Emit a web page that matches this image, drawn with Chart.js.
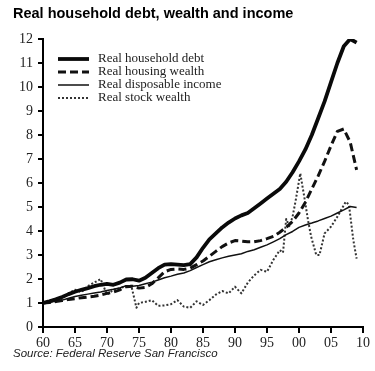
<!DOCTYPE html>
<html>
<head>
<meta charset="utf-8">
<script src="https://cdn.jsdelivr.net/npm/chart.js@4"></script>
<style>
  html, body { margin: 0; padding: 0; background: #fff; }
  #wrap { position: relative; width: 375px; height: 371px; }
</style>
</head>
<body>
<div id="wrap"><canvas id="debtChart" width="375" height="371"></canvas></div>
<script>
// values (year as 60..109)
const years = [60, 61, 62, 63, 64, 65, 66, 67, 68, 69, 70, 71, 72, 73, 74, 75, 76, 77, 78, 79,
     80, 81, 82, 83, 84, 85, 86, 87, 88, 89, 90, 91, 92, 93, 94, 95, 96, 97, 98, 99,
     100, 101, 102, 103, 104, 105, 106, 107, 108, 109];

const householdDebt = [1.00, 1.07, 1.15, 1.25, 1.37, 1.47, 1.55, 1.62, 1.70, 1.76, 1.80, 1.76, 1.85, 1.98, 1.99, 1.93, 2.05, 2.25, 2.45, 2.60,
     2.62, 2.60, 2.58, 2.62, 2.90, 3.30, 3.65, 3.90, 4.15, 4.35, 4.52, 4.65, 4.75, 4.95, 5.15, 5.35, 5.55, 5.75, 6.05, 6.45,
     6.90, 7.40, 8.00, 8.70, 9.40, 10.20, 11.00, 11.70, 12.00, 11.85];

const housingWealth = [1.00, 1.02, 1.06, 1.10, 1.15, 1.18, 1.22, 1.25, 1.28, 1.33, 1.40, 1.45, 1.55, 1.68, 1.70, 1.62, 1.65, 1.80, 2.05, 2.30,
     2.40, 2.42, 2.40, 2.45, 2.60, 2.75, 2.95, 3.15, 3.35, 3.50, 3.60, 3.58, 3.55, 3.55, 3.60, 3.68, 3.78, 3.95, 4.15, 4.40,
     4.75, 5.20, 5.75, 6.30, 6.90, 7.55, 8.15, 8.25, 7.70, 6.55];

const disposableIncome = [1.00, 1.03, 1.08, 1.12, 1.20, 1.27, 1.32, 1.37, 1.42, 1.46, 1.52, 1.57, 1.63, 1.72, 1.70, 1.73, 1.80, 1.87, 1.96, 2.05,
     2.12, 2.20, 2.25, 2.35, 2.48, 2.60, 2.72, 2.80, 2.88, 2.95, 3.00, 3.05, 3.15, 3.22, 3.32, 3.42, 3.55, 3.68, 3.85, 3.98,
     4.15, 4.25, 4.33, 4.42, 4.52, 4.62, 4.75, 4.88, 5.02, 4.98];

const stockYears = [60, 61, 62, 63, 64, 65, 66, 67, 68, 69, 70, 71, 72, 73, 73.8, 74.6,
     75, 76, 77, 78, 79, 80, 81, 82, 83, 84, 85, 86, 87, 88, 89, 90, 91, 92, 93, 94, 95, 96, 97,
     97.5, 98, 98.5, 99, 99.5, 100.2, 100.9, 101.4, 101.9, 102.7, 103.2, 104, 105, 106, 107.3, 107.8, 108.5, 109];

const stockWealth = [1.00, 1.12, 1.05, 1.25, 1.40, 1.55, 1.45, 1.70, 1.85, 2.00, 1.35, 1.55, 1.62, 1.70, 1.72, 0.80,
     1.00, 1.05, 1.12, 0.88, 0.90, 0.95, 1.12, 0.85, 0.80, 1.07, 0.92, 1.12, 1.35, 1.50, 1.40, 1.68, 1.40, 1.85, 2.15, 2.38, 2.30, 2.80, 3.20,
     3.10, 4.50, 4.20, 4.60, 5.30, 6.40, 5.30, 4.46, 3.76, 3.00, 3.00, 3.90, 4.18, 4.60, 5.22, 5.10, 3.60, 2.85];

const seriesLabels = ["Real household debt", "Real housing wealth", "Real disposable income", "Real stock wealth"];
const yTicks = [0, 1, 2, 3, 4, 5, 6, 7, 8, 9, 10, 11, 12];
const xTicks = [60, 65, 70, 75, 80, 85, 90, 95, 100, 105, 110];

const titleText = "Real household debt, wealth and income";
const sourceText = "Source: Federal Reserve San Francisco";

function pairUp(xs, ys) {
     return xs.map((x, i) => ({ x: x, y: ys[i] }));
}

// title, source line and the legend box inside the plot
const annotations = {
     id: 'annotations',
     afterDraw(chart) {
          const ctx = chart.ctx;
          ctx.save();
          ctx.fillStyle = '#000';
          ctx.textBaseline = 'middle';
          ctx.textAlign = 'left';
          ctx.font = 'bold 14.5px "Liberation Sans", Arial, sans-serif';
          ctx.fillText(titleText, 13, 14);
          ctx.font = 'italic 11.5px "Liberation Sans", Arial, sans-serif';
          ctx.fillStyle = '#222';
          ctx.fillText(sourceText, 13, 354);

          ctx.font = '13px "Liberation Serif", "Times New Roman", serif';
          chart.data.datasets.forEach((ds, i) => {
               const y = 59 + i * 13;
               ctx.beginPath();
               ctx.strokeStyle = ds.borderColor;
               ctx.lineWidth = ds.borderWidth;
               ctx.setLineDash(ds.borderDash || []);
               ctx.moveTo(58, y);
               ctx.lineTo(89, y);
               ctx.stroke();
               ctx.setLineDash([]);
               ctx.fillStyle = '#222';
               ctx.fillText(ds.label, 98, y);
          });
          ctx.restore();
     }
};

const ctx = document.getElementById('debtChart').getContext('2d');
new Chart(ctx, {
     type: 'line',
     data: {
          datasets: [{
               label: seriesLabels[0],
               data: pairUp(years, householdDebt),
               borderColor: '#0a0a0a',
               borderWidth: 3.8
          }, {
               label: seriesLabels[1],
               data: pairUp(years, housingWealth),
               borderColor: '#111',
               borderWidth: 3,
               borderDash: [8, 4]
          }, {
               label: seriesLabels[2],
               data: pairUp(years, disposableIncome),
               borderColor: '#111',
               borderWidth: 1.5
          }, {
               label: seriesLabels[3],
               data: pairUp(stockYears, stockWealth),
               borderColor: '#333',
               borderWidth: 2,
               borderDash: [2, 2]
          }]
     },
     options: {
          responsive: false,
          animation: false,
          devicePixelRatio: 1,
          elements: {
               point: { radius: 0 },
               line: { tension: 0, borderCapStyle: 'butt', borderJoinStyle: 'round' }
          },
          layout: { padding: { top: 39, right: 12, bottom: 24, left: 0 } },
          plugins: {
               legend: { display: false },
               tooltip: { enabled: false }
          },
          scales: {
               x: {
                    type: 'linear',
                    min: xTicks[0],
                    max: xTicks[xTicks.length - 1],
                    afterFit(scale) { scale.height = 20; },
                    afterBuildTicks(scale) { scale.ticks = xTicks.map(v => ({ value: v })); },
                    border: { display: true, color: '#000', width: 2 },
                    grid: { display: true, drawOnChartArea: false, drawTicks: true, tickLength: 6, color: '#000', lineWidth: 2 },
                    ticks: {
                         autoSkip: false,
                         maxRotation: 0,
                         padding: 2,
                         color: '#222',
                         font: { family: '"Liberation Serif", "Times New Roman", serif', size: 14 },
                         callback: v => String(v % 100).padStart(2, '0')
                    }
               },
               y: {
                    min: yTicks[0],
                    max: yTicks[yTicks.length - 1],
                    afterFit(scale) { scale.width = 43; },
                    afterBuildTicks(scale) { scale.ticks = yTicks.map(v => ({ value: v })); },
                    border: { display: true, color: '#000', width: 2 },
                    grid: { display: true, drawOnChartArea: false, drawTicks: true, tickLength: 5, color: '#000', lineWidth: 2 },
                    ticks: {
                         padding: 5,
                         color: '#222',
                         font: { family: '"Liberation Serif", "Times New Roman", serif', size: 14 }
                    }
               }
          }
     },
     plugins: [annotations]
});
</script>
</body>
</html>
